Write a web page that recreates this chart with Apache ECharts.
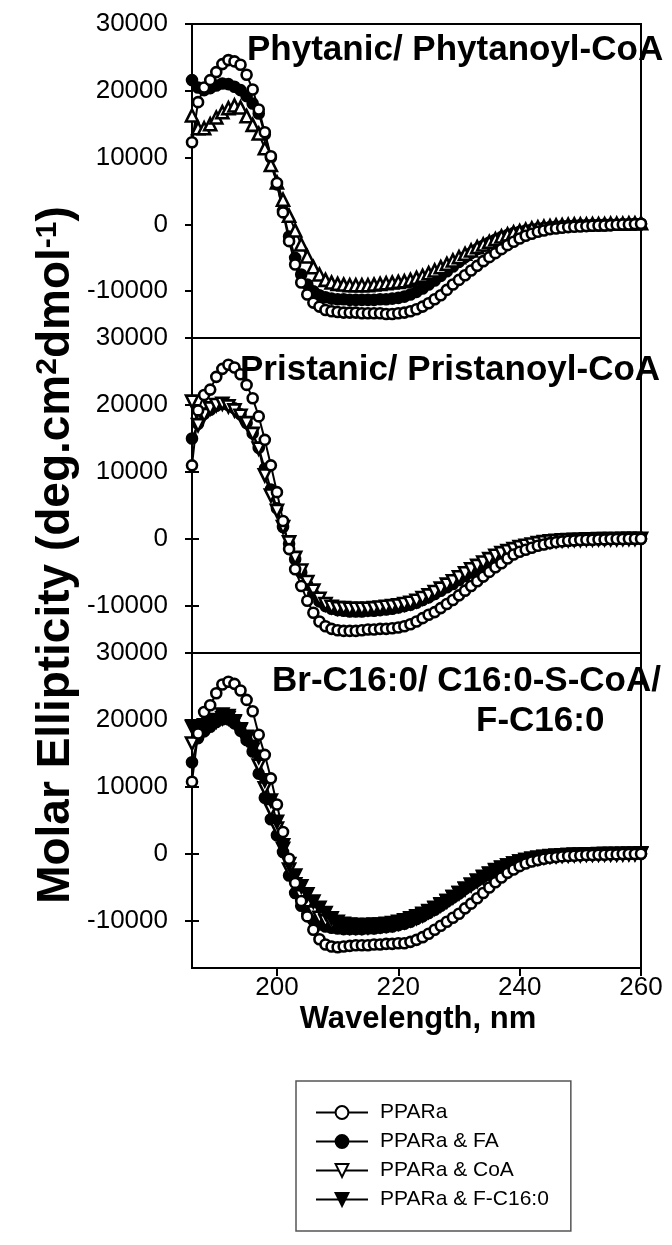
<!DOCTYPE html>
<html><head><meta charset="utf-8">
<script src="https://cdn.jsdelivr.net/npm/echarts@6.0.0/dist/echarts.min.js"></script>
<style>html,body{margin:0;padding:0;background:#fff}#c{width:672px;height:1245px}</style>
</head><body><div id="c"></div>
<script>
const wavelength = [186,187,188,189,190,191,192,193,194,195,196,197,198,199,200,201,202,203,204,205,
206,207,208,209,210,211,212,213,214,215,216,217,218,219,220,221,222,223,224,225,
226,227,228,229,230,231,232,233,234,235,236,237,238,239,240,241,242,243,244,245,
246,247,248,249,250,251,252,253,254,255,256,257,258,259,260];
const xTicks = [200,220,240,260];
const yTicks = [-10000,0,10000,20000,30000];
const seriesNames = ['PPARa','PPARa & FA','PPARa & CoA','PPARa & F-C16:0'];
const panelTitles = ['Phytanic/ Phytanoyl-CoA','Pristanic/ Pristanoyl-CoA','Br-C16:0/ C16:0-S-CoA/','F-C16:0'];

// Top panel: Phytanic / Phytanoyl-CoA
const topPPARa = [12300,18300,20500,21600,22800,24000,24600,24400,23900,22400,
 20200,17200,13800,10200,6200,1800,-2500,-6000,-8700,-10500,
 -11700,-12300,-12800,-13000,-13100,-13200,-13200,-13200,-13300,-13300,
 -13300,-13300,-13400,-13400,-13300,-13200,-13000,-12700,-12300,-11800,
 -11200,-10600,-9800,-9000,-8300,-7600,-6900,-6200,-5500,-4900,
 -4300,-3700,-3100,-2600,-2100,-1700,-1400,-1100,-900,-700,
 -600,-500,-400,-350,-300,-250,-200,-150,-150,-100,
 -50,0,0,50,100];
const topFA = [21600,20500,20100,20400,20800,21100,21000,20600,20100,19200,
 18100,16600,13500,10000,6000,2000,-1800,-5000,-7500,-9000,
 -10000,-10600,-10900,-11100,-11200,-11200,-11300,-11300,-11300,-11300,
 -11300,-11200,-11200,-11100,-11000,-10800,-10500,-10100,-9600,-9000,
 -8400,-7700,-7000,-6300,-5600,-4900,-4300,-3700,-3200,-2700,
 -2300,-1900,-1600,-1300,-1100,-900,-750,-600,-500,-400,
 -300,-250,-200,-150,-100,-100,-50,-50,0,0,
 0,50,50,100,100];
const topCoA = [16300,14400,14400,15000,16000,16800,17400,17800,17500,16200,
 14900,13600,11400,8900,6300,3700,1300,-900,-3000,-4800,
 -6400,-7500,-8300,-8700,-8900,-9000,-9100,-9100,-9100,-9100,
 -9000,-8900,-8800,-8700,-8600,-8500,-8300,-8000,-7700,-7300,
 -6900,-6400,-5900,-5400,-4900,-4400,-3900,-3400,-3000,-2600,
 -2200,-1800,-1500,-1200,-1000,-800,-600,-450,-350,-250,
 -150,-100,-50,0,0,0,50,50,50,100,
 100,100,150,150,200];

// Middle panel: Pristanic / Pristanoyl-CoA
const midPPARa = [11000,19200,21500,22300,24200,25400,26000,25600,24600,23000,
 21000,18300,14800,11000,7000,2700,-1500,-4500,-7000,-9200,
 -11000,-12300,-13000,-13400,-13600,-13700,-13700,-13700,-13600,-13500,
 -13500,-13400,-13400,-13300,-13200,-13000,-12700,-12300,-11800,-11300,
 -10900,-10300,-9700,-9100,-8400,-7700,-7000,-6300,-5600,-4900,
 -4200,-3600,-2900,-2300,-1900,-1600,-1300,-1000,-800,-600,
 -450,-350,-250,-200,-150,-100,-100,-50,-50,0,
 0,0,50,50,50];
const midFA = [15000,17200,18700,19300,19900,20200,20000,19500,18600,17300,
 15800,13600,10500,7400,4600,1800,-700,-3000,-5000,-6800,
 -8200,-9300,-10000,-10400,-10600,-10700,-10800,-10800,-10800,-10700,
 -10700,-10600,-10500,-10400,-10200,-10000,-9800,-9500,-9100,-8700,
 -8200,-7700,-7200,-6700,-6100,-5500,-5000,-4500,-4000,-3500,
 -3000,-2600,-2200,-1800,-1500,-1200,-1000,-800,-600,-450,
 -350,-300,-250,-200,-150,-100,-100,-50,-50,0,
 0,0,0,0,50];
const midCoA = [20500,17000,18500,19500,20000,20200,19800,19200,18400,17300,
 15700,13500,9500,6500,4200,1800,-500,-2800,-4700,-6400,
 -7700,-8900,-9700,-10100,-10300,-10300,-10400,-10400,-10400,-10400,
 -10300,-10200,-10100,-10000,-9900,-9700,-9500,-9200,-8800,-8400,
 -7900,-7400,-6800,-6300,-5700,-5100,-4500,-4000,-3500,-3000,
 -2500,-2100,-1800,-1500,-1200,-1000,-800,-600,-450,-350,
 -250,-200,-150,-100,-100,-50,-50,0,0,0,
 0,50,50,50,50];

// Bottom panel: Br-C16:0 / C16:0-S-CoA / F-C16:0
const botPPARa = [10800,18000,21200,22200,24000,25300,25700,25400,24400,23000,
 21300,17800,14800,11300,7400,3300,-700,-4300,-7000,-9300,
 -11300,-12700,-13500,-13800,-13900,-13800,-13700,-13600,-13600,-13600,
 -13500,-13500,-13400,-13400,-13300,-13300,-13100,-12800,-12400,-11900,
 -11300,-10700,-10100,-9500,-8900,-8100,-7400,-6600,-5800,-5000,
 -4200,-3500,-2800,-2300,-1800,-1400,-1100,-900,-700,-550,
 -450,-350,-300,-250,-200,-150,-150,-100,-100,-50,
 -50,0,0,0,50];
const botFA = [13700,17300,18300,19000,19700,20100,20100,19500,18400,17000,
 15300,12000,8400,5200,2800,300,-3200,-5800,-7700,-8900,
 -9900,-10500,-10800,-11000,-11100,-11200,-11200,-11200,-11200,-11100,
 -11100,-11000,-10900,-10800,-10600,-10400,-10100,-9700,-9300,-8800,
 -8300,-7700,-7100,-6500,-5900,-5200,-4600,-4000,-3400,-2900,
 -2400,-2000,-1700,-1400,-1100,-900,-700,-550,-450,-350,
 -300,-250,-200,-150,-100,-100,-50,-50,-50,0,
 0,0,0,50,50];
const botCoA = [16500,18000,18800,19300,19800,20300,20300,19700,18500,17200,
 15600,13200,9800,6600,3800,800,-2300,-4500,-6300,-7600,
 -8700,-9500,-10000,-10400,-10600,-10800,-10900,-10900,-10900,-10900,
 -10800,-10700,-10600,-10500,-10300,-10100,-9800,-9500,-9100,-8600,
 -8100,-7600,-7000,-6400,-5800,-5200,-4600,-4000,-3400,-2900,
 -2400,-2000,-1700,-1400,-1100,-900,-700,-550,-450,-350,
 -250,-200,-150,-100,-100,-50,-50,-50,0,0,
 0,0,50,50,50];
const botFC16 = [19000,19000,19200,19500,20000,20800,20600,19800,18600,17500,
 16000,14500,11000,8000,4800,1300,-1500,-3200,-4800,-6000,
 -7100,-8000,-8800,-9600,-10100,-10400,-10500,-10600,-10600,-10600,
 -10500,-10500,-10400,-10300,-10100,-9900,-9600,-9300,-8900,-8500,
 -8000,-7500,-7000,-6400,-5800,-5200,-4600,-4000,-3500,-3000,
 -2500,-2100,-1700,-1400,-1100,-900,-700,-550,-400,-300,
 -250,-200,-150,-100,-100,-50,-50,0,0,0,
 0,50,50,50,100];

const FONT = '"Liberation Sans", Arial, Helvetica, sans-serif';
const styles = {
  'PPARa': {symbol:'circle', size:10, fill:'#fff', rotate:0},
  'PPARa & FA': {symbol:'circle', size:10, fill:'#000', rotate:0},
  'PPARa & CoA': {symbol:'triangle', size:12, fill:'#fff', rotate:180},
  'PPARa & F-C16:0': {symbol:'triangle', size:12, fill:'#000', rotate:180}
};
function mk(name, grid, vals, rotateOverride) {
  const s = styles[name];
  return {
    type:'line', name: name, xAxisIndex: grid, yAxisIndex: grid,
    data: wavelength.map((w,i)=>[w, vals[i]]),
    symbol: s.symbol, symbolSize: s.size,
    symbolRotate: rotateOverride !== undefined ? rotateOverride : s.rotate,
    showAllSymbol: true, clip: false, silent: true,
    lineStyle: {color:'#000', width:2},
    itemStyle: {color: s.fill, borderColor:'#000', borderWidth:2.6},
    emphasis: {disabled:true}
  };
}
const series = [
  mk('PPARa & FA',1,midFA), mk('PPARa & CoA',1,midCoA), mk('PPARa',1,midPPARa),
  mk('PPARa & FA',0,topFA), mk('PPARa & CoA',0,topCoA,0), mk('PPARa',0,topPPARa),
  mk('PPARa & FA',2,botFA), mk('PPARa & CoA',2,botCoA), mk('PPARa & F-C16:0',2,botFC16), mk('PPARa',2,botPPARa)
];
const gridTops = [24,338,653];
const gridH = [314,315,315];
const grid = gridTops.map((t,i)=>({left:192, top:t, width:449, height:gridH[i], show:true, borderColor:'#000', borderWidth:2, backgroundColor:'transparent'}));
const xAxis = [0,1,2].map(i=>({
  type:'value', gridIndex:i, min:186, max:260, show: i===2,
  axisLine:{show:true, onZero:false, lineStyle:{color:'#000', width:2}},
  axisTick:{show:true, length:8, customValues:xTicks, lineStyle:{color:'#000', width:2}},
  axisLabel:{show:true, customValues:xTicks, fontSize:26, fontFamily:FONT, color:'#000', margin:7},
  splitLine:{show:false}
}));
const yAxis = [0,1,2].map(i=>({
  type:'value', gridIndex:i, min:-17000, max:30000, position:'left',
  axisLine:{show:true, onZero:false, lineStyle:{color:'#000', width:2}},
  axisTick:{show:true, length:7, customValues:yTicks, lineStyle:{color:'#000', width:2}},
  axisLabel:{show:true, customValues:yTicks, formatter:(v)=>String(v), fontSize:26, fontFamily:FONT, color:'#000', margin:24},
  splitLine:{show:false}
}));
// inner halves of the crossing ticks in the middle and bottom panels:
// a right-side axis shifted onto the left edge, whose outward ticks point into the plot
[1,2].forEach(i=>yAxis.push({
  type:'value', gridIndex:i, min:-17000, max:30000, position:'right', offset:-449,
  axisLine:{show:false, onZero:false},
  axisTick:{show:true, inside:false, length:7, customValues:yTicks, lineStyle:{color:'#000', width:2}},
  axisLabel:{show:false}, splitLine:{show:false}
}));
const titleFont = 'bold 35px ' + FONT;
const graphic = [
  {type:'text', x:247, y:50, z:100, style:{text:panelTitles[0], font:titleFont, fill:'#000', align:'left', verticalAlign:'middle'}},
  {type:'text', x:240, y:370, z:100, style:{text:panelTitles[1], font:titleFont, fill:'#000', align:'left', verticalAlign:'middle'}},
  {type:'text', x:272, y:681, z:100, style:{text:panelTitles[2], font:titleFont, fill:'#000', align:'left', verticalAlign:'middle'}},
  {type:'text', x:476, y:721, z:100, style:{text:panelTitles[3], font:titleFont, fill:'#000', align:'left', verticalAlign:'middle'}},
  {type:'text', x:418, y:1019, z:100, style:{text:'Wavelength, nm', font:'bold 31px ' + FONT, fill:'#000', align:'center', verticalAlign:'middle'}},
  {type:'text', x:56, y:555, rotation:Math.PI/2, z:100, style:{
    text:'{a|Molar Ellipticity (deg.cm}{s|2}{a|dmol}{s|-1}{a|)}',
    align:'center', verticalAlign:'middle', fill:'#000',
    rich:{
      a:{font:'bold 46px ' + FONT, fill:'#000', lineHeight:46, verticalAlign:'bottom'},
      s:{font:'bold 30px ' + FONT, fill:'#000', lineHeight:30, verticalAlign:'top', padding:[0,0,24,0]}
    }}}
];
const chart = echarts.init(document.getElementById('c'), null, {renderer:'canvas'});
chart.setOption({
  animation:false,
  backgroundColor:'#fff',
  grid: grid, xAxis: xAxis, yAxis: yAxis, series: series, graphic: graphic,
  legend:{
    orient:'vertical', left:296, top:1081, padding:[21,22,21,19],
    itemWidth:52, itemHeight:16, itemGap:8, selectedMode:false,
    borderColor:'#555', borderWidth:1.5, backgroundColor:'#fff',
    textStyle:{fontSize:21, fontFamily:FONT, color:'#000', padding:[0,0,0,7]},
    data: seriesNames
  }
});
</script></body></html>
